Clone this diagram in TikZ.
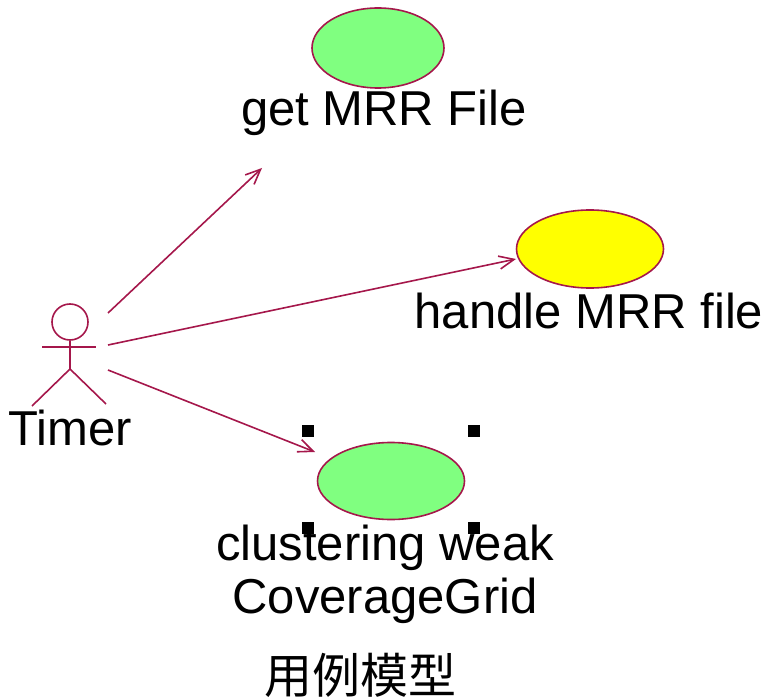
\documentclass[tikz,border=0pt]{standalone}
\usepackage{fontspec}
\setmainfont{Liberation Sans}
\newfontfamily\cjk{Noto Sans CJK SC}
\usetikzlibrary{shapes.geometric,arrows.meta}
\definecolor{umlline}{HTML}{A5174B}
\definecolor{ucgreen}{HTML}{80FF80}
\definecolor{ucyellow}{HTML}{FFFF00}
\tikzset{
  usecase/.style={ellipse,draw=umlline,line width=1.6pt,inner sep=0pt},
  lbl/.style={font=\fontsize{49}{53}\selectfont,inner sep=0pt,align=center},
  assoc/.style={draw=umlline,line width=1.6pt,-{Straight Barb[length=15pt,width=13pt,line width=1.6pt]}},
  actorline/.style={draw=umlline,line width=1.6pt},
  handle/.style={rectangle,fill=black,minimum width=12pt,minimum height=12pt,inner sep=0pt,draw=none}
}
\begin{document}
\begin{tikzpicture}[x=1pt,y=-1pt]
\useasboundingbox (0,0) rectangle (767,700);
% use cases
\node[usecase,fill=ucgreen,minimum width=132pt,minimum height=80pt] (e1) at (378,48) {};
\node[lbl] (t1) at (384,113) {get MRR File};
\node[usecase,fill=ucyellow,minimum width=147pt,minimum height=78pt] (e2) at (590,249) {};
\node[lbl] (t2) at (589,311) {handle MRR file};
\node[usecase,fill=ucgreen,minimum width=147pt,minimum height=77pt] (e3) at (391,481) {};
\node[lbl] (t3) at (385,574) {clustering weak\\CoverageGrid};
% selection handles
\node[handle] (h1) at (308,431) {};
\node[handle] (h2) at (474,431) {};
\node[handle] (h3) at (308,528) {};
\node[handle] (h4) at (474,528) {};
% actor
\node[circle,draw=umlline,line width=1.6pt,minimum size=36pt,inner sep=0pt] (head) at (70,322) {};
\coordinate (hip) at (70,369);
\coordinate (larm) at (42,347);
\coordinate (rarm) at (96,347);
\coordinate (lleg) at (32,406);
\coordinate (rleg) at (106,404);
\draw[actorline] (head.south) -- (hip);
\draw[actorline] (larm) -- (rarm);
\draw[actorline] (lleg) -- (hip) -- (rleg);
\node[lbl] (actor) at (70,428) {Timer};
% associations
\coordinate (s1) at (108,313);
\coordinate (s2) at (108,345);
\coordinate (s3) at (108,370);
\coordinate (f1) at (262,168);
\coordinate (f2) at (516,259);
\coordinate (f3) at (315,452);
\draw[assoc] (s1) -- (f1);
\draw[assoc] (s2) -- (f2);
\draw[assoc] (s3) -- (f3);
% caption
\node[lbl,font=\cjk\fontsize{48}{52}\selectfont] (cap) at (360,675) {用例模型};
\end{tikzpicture}
\end{document}
